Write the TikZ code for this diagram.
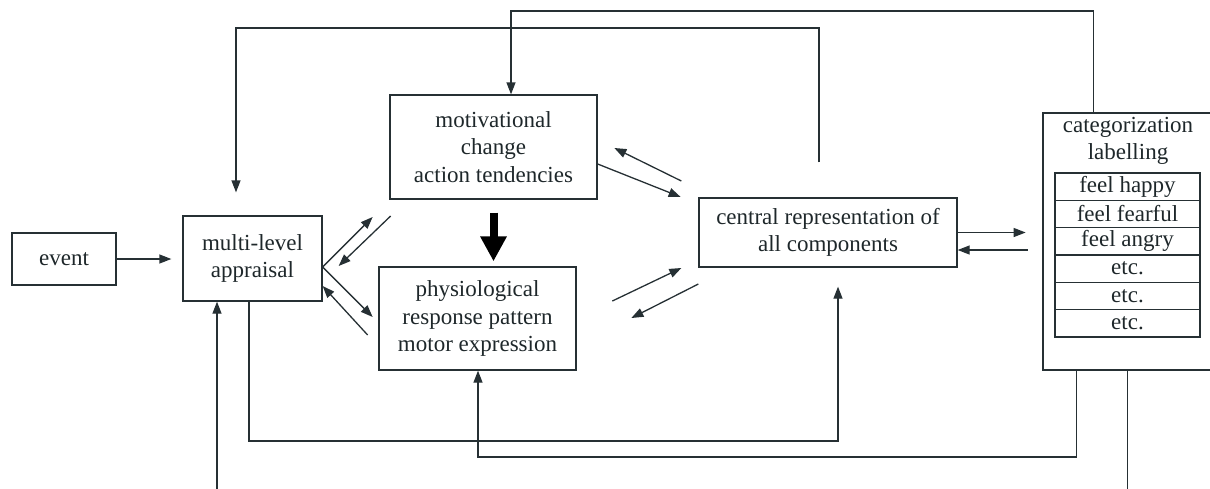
\documentclass[tikz,border=0pt]{standalone}
\usepackage{fontspec}
\setmainfont{Liberation Serif}
\usetikzlibrary{arrows.meta}
\definecolor{ink}{HTML}{263034}

\begin{document}
\begin{tikzpicture}[x=1pt, y=-1pt, ink,
  box/.style={draw, line width=1.3pt, inner sep=0pt, align=center, text=ink!80!black, font=\fontsize{23}{27.5}\selectfont},
  cell/.style={box, minimum width=145, minimum height=27.33},
  arr/.style={line width=1.3pt, arrows={-Triangle[length=12pt, width=9pt]}},
  bigarr/.style={line width=8pt, arrows={-Triangle[length=25pt, width=25pt]}}]
\path[use as bounding box, clip] (0,0) rectangle (1210,488);
\node[box, minimum width=104, minimum height=52] (event) at (64, 259) {event};
\node[box, minimum width=139, minimum height=85] (appraisal) at (252.5, 258.5) {multi-level\\appraisal};
\node[box, minimum width=207, minimum height=104] (motiv) at (493.5, 147) {motivational\\change\\action tendencies};
\node[box, minimum width=197, minimum height=103] (physio) at (477.5, 318.5) {physiological\\response pattern\\motor expression};
\node[box, minimum width=258, minimum height=69] (central) at (828, 232.5) {central representation of\\all components};
\node[box, minimum width=173, minimum height=257] (categ) at (1129.5, 241.5) {};
\node[box, draw=none] (catname) at (1128, 141) {categorization\\labelling};
\foreach \t [count=\i] in {feel happy, feel fearful, feel angry, etc., etc., etc.}
  \node[cell] (row\i) at (1127.5, 159.33+27.33*\i) {\t};
\coordinate (hiA) at (511, 11);
\coordinate (hiB) at (236, 28);
\coordinate (loC) at (838, 441);
\coordinate (loD) at (478, 457);
\coordinate (loE) at (217, 494);
\draw[arr, shorten >=11pt] (event.east) -- (event.east -| appraisal.west);
\draw[arr] ([xshift=51pt]categ.north west) |- (hiA) -- (hiA |- motiv.north);
\draw[arr, shorten <=35pt, shorten >=23pt] ([xshift=-9pt]central.north) |- (hiB) -- (hiB |- appraisal.north);
\draw[arr, shorten >=19pt] ([xshift=-3.5pt]appraisal.south) |- (loC) -- (loC |- central.south);
\draw[arr] ([xshift=34pt]categ.south west) |- (loD) -- (loD |- physio.south);
\draw[arr] ([xshift=85pt]categ.south west) |- (loE) -- (loE |- appraisal.south);
\draw[bigarr, black, shorten <=13pt, shorten >=5pt] (motiv.south) -- (motiv.south |- physio.north);
\draw[arr] ([yshift=-8.5pt]appraisal.east) -- ++(50, -50);
\draw[arr] ([xshift=68pt, yshift=42.5pt]appraisal.east) -- ++(-52, 50);
\draw[arr] ([yshift=-8.5pt]appraisal.east) -- ++(50, 50);
\draw[arr] ([xshift=45pt, yshift=-76.5pt]appraisal.east) -- ++(-45, -49);
\draw[arr] ([yshift=-17pt]motiv.east) -- ++(83, 33);
\draw[arr] ([xshift=-17pt, yshift=51.5pt]central.west) -- ++(-67, -33);
\draw[arr] ([xshift=-86pt, yshift=-68.5pt]central.west) -- ++(69, -33);
\draw[arr] ([yshift=-51.5pt]central.west) -- ++(-67, 34);
\draw[arr] (central.east) -- ++(68, 0);
\draw[arr] ([xshift=70pt, yshift=-17.5pt]central.east) -- ++(-70, 0);
\end{tikzpicture}
\end{document}
